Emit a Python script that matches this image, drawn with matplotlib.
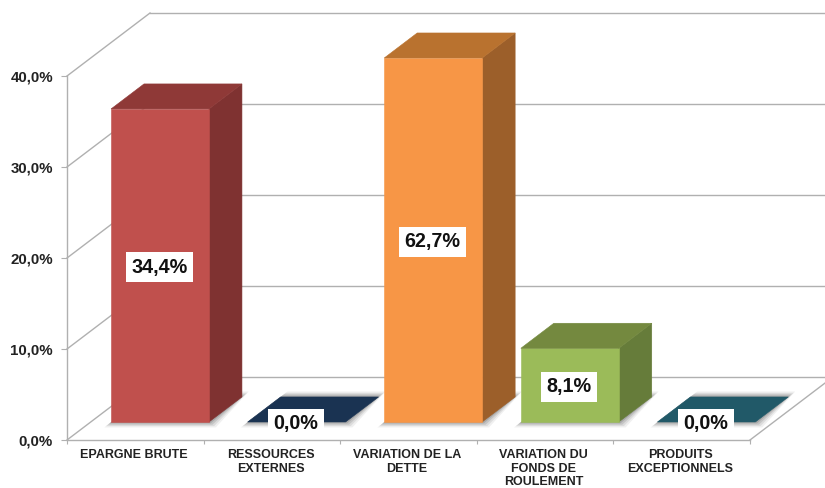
import matplotlib
matplotlib.use('Agg')
import matplotlib.pyplot as plt
from matplotlib.patches import Polygon

plt.rcParams['font.family'] = ['Liberation Sans', 'DejaVu Sans']

categories = ['EPARGNE BRUTE', 'RESSOURCES\nEXTERNES', 'VARIATION DE LA\nDETTE',
              'VARIATION DU\nFONDS DE\nROULEMENT', 'PRODUITS\nEXCEPTIONNELS']
values = [34.4, 0.0, 62.7, 8.1, 0.0]
value_labels = ['34,4%', '0,0%', '62,7%', '8,1%', '0,0%']
yticks = [0, 10, 20, 30, 40]
ytick_labels = ['0,0%', '10,0%', '20,0%', '30,0%', '40,0%']

front_colors = ['#c0504d', '#1a3352', '#f79646', '#9bbb59', '#215968']
top_colors = ['#8f3937', '#1a3352', '#b9722f', '#74893f', '#215968']
side_colors = ['#7f3231', '#1a3352', '#9c5f2a', '#667c3a', '#215968']

GRID = '#b0b0b0'
YMAX = 40
# how far the back of the floor is shifted, in category / value units
DEPTH_X = 83 / 136.6
DEPTH_Y = 63 / 9.1
BAR_LEFT = 0.1487
BAR_WIDTH = 0.717
BAR_D0 = 0.286
BAR_D1 = 0.683


def Proj(x, v, d):
    return (x + d * DEPTH_X, v + d * DEPTH_Y)


def Face(ax, pts, color, z):
    ax.add_patch(Polygon(pts, closed=True, facecolor=color, edgecolor=color, lw=0.4,
                         clip_on=False, zorder=z))


def Shadow(ax, i, z):
    x0 = i + BAR_LEFT
    x1 = x0 + BAR_WIDTH
    for grow, alpha in [(1.0, 0.08), (0.75, 0.11), (0.5, 0.15), (0.25, 0.2)]:
        gx = grow * 0.05
        gy = grow * 0.6
        pts = [Proj(x0 - gx, -gy, BAR_D0), Proj(x1 + gx, -gy, BAR_D0),
               Proj(x1 + gx, gy, BAR_D1), Proj(x0 + gx, gy, BAR_D1)]
        ax.add_patch(Polygon(pts, closed=True, facecolor='#404040', edgecolor='none',
                             alpha=alpha, clip_on=False, zorder=z))


fig = plt.figure(figsize=(8.25, 4.88), dpi=100)
ax = fig.add_axes([67 / 825, 48 / 488, (750 - 67) / 825, (440 - 76) / 488])
ax.set_xlim(0, 5)
ax.set_ylim(0, YMAX)

for s in ['top', 'right']:
    ax.spines[s].set_visible(False)
for s in ['left', 'bottom']:
    ax.spines[s].set_color(GRID)
    ax.spines[s].set_linewidth(1.0)

ax.set_yticks(yticks)
ax.set_yticklabels(ytick_labels, fontsize=10.8, fontweight='bold', color='#222222')
ax.tick_params(axis='y', length=4, color=GRID, pad=6)
ax.set_xticks(range(6))
ax.set_xticklabels([])
ax.tick_params(axis='x', which='major', length=3, color=GRID)
ax.set_xticks([i + 0.49 for i in range(5)], minor=True)
ax.set_xticklabels(categories, minor=True, fontsize=9, fontweight='bold', color='#222222',
                   linespacing=1.17)
ax.tick_params(axis='x', which='minor', length=0, pad=6.5)

# walls and floor
for t in yticks:
    ax.plot([0, DEPTH_X], [t, t + DEPTH_Y], color=GRID, lw=1.0, clip_on=False, zorder=1)
    ax.plot([DEPTH_X, 5 + DEPTH_X], [t + DEPTH_Y, t + DEPTH_Y], color=GRID, lw=1.0,
            clip_on=False, zorder=1)
ax.plot([5, 5 + DEPTH_X], [0, DEPTH_Y], color=GRID, lw=1.0, clip_on=False, zorder=1)

for i, v in enumerate(values):
    h = min(v, YMAX)
    x0 = i + BAR_LEFT
    x1 = x0 + BAR_WIDTH
    Shadow(ax, i, 2 + i * 0.1)
    z = 3 + i * 0.1
    if h > 0:
        Face(ax, [Proj(x1, 0, BAR_D0), Proj(x1, 0, BAR_D1), Proj(x1, h, BAR_D1), Proj(x1, h, BAR_D0)],
             side_colors[i], z)
        Face(ax, [Proj(x0, 0, BAR_D0), Proj(x1, 0, BAR_D0), Proj(x1, h, BAR_D0), Proj(x0, h, BAR_D0)],
             front_colors[i], z)
    Face(ax, [Proj(x0, h, BAR_D0), Proj(x1, h, BAR_D0), Proj(x1, h, BAR_D1), Proj(x0, h, BAR_D1)],
         top_colors[i], z)
    cx, cy = Proj(x0 + BAR_WIDTH / 2, h / 2, BAR_D0)
    ax.annotate(value_labels[i], (cx, cy), xytext=(-0.5, -1.2), textcoords='offset points',
                ha='center', va='center', fontsize=14.2, fontweight='bold',
                color='#111111', zorder=6, annotation_clip=False,
                bbox=dict(facecolor='white', edgecolor='none', pad=4))

fig.savefig('out.png', dpi=100)
